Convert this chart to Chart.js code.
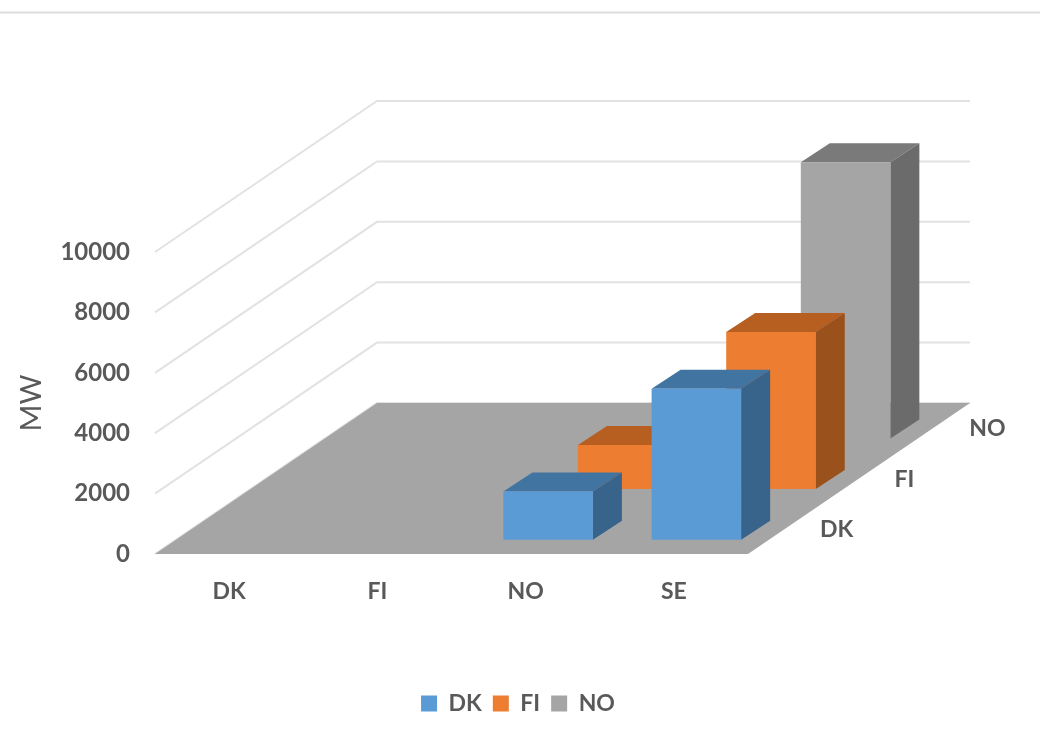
<!DOCTYPE html>
<html>
<head>
<meta charset="utf-8">
<title>MW</title>
<script src="https://cdn.jsdelivr.net/npm/chart.js@4"></script>
<style>
  html, body { margin: 0; padding: 0; background: #fff; }
  #wrap { width: 1040px; height: 744px; }
</style>
</head>
<body>
<div id="wrap"><canvas id="chart" width="1040" height="744"></canvas></div>
<script>
// data
const categories = ["DK", "FI", "NO", "SE"];
const seriesNames = ["DK", "FI", "NO"];
const dkValues = [0, 0, 1600, 5000];
const fiValues = [0, 0, 1460, 5200];
const noValues = [0, 0, 0, 9150];
const yTicks = [0, 2000, 4000, 6000, 8000, 10000];

// colours: front, top, side
const fronts = ["#5b9bd5", "#ed7d31", "#a5a5a5"];
const tops = ["#4274a1", "#b75f20", "#7a7a7a"];
const sides = ["#38638a", "#9a511c", "#6b6b6b"];

const textColor = "#595959";
const fontFamily = "Lato, 'Open Sans', sans-serif";

// the fake 3d projection, in pixels
const floorDx = 222, floorDy = 151;   // whole depth of the floor
const rowStartDx = 22.5, rowStartDy = 14.3;   // front row from front edge
const rowDx = 74.6, rowDy = 50.6;     // one row further back
const boxDx = 29, boxDy = 19;         // depth of one bar

function poly(ctx, pts, color) {
  ctx.fillStyle = color;
  ctx.beginPath();
  pts.forEach((p, i) => i ? ctx.lineTo(p[0], p[1]) : ctx.moveTo(p[0], p[1]));
  ctx.closePath();
  ctx.fill();
}

const scene3d = {
  id: "scene3d",
  afterLayout(chart) {
    // legend centres on the page, not on the plot
    chart.legend.left = 0;
    chart.legend.right = 1036;
  },
  beforeDraw(chart) {
    const ctx = chart.ctx;
    ctx.save();
    ctx.strokeStyle = "#dcdcdc";
    ctx.lineWidth = 2;
    ctx.beginPath();
    ctx.moveTo(0, 12.5);
    ctx.lineTo(chart.width, 12.5);
    ctx.stroke();
    ctx.restore();
  },
  beforeDatasetsDraw(chart) {
    const ctx = chart.ctx;
    const x = chart.scales.x, y = chart.scales.y;
    const y0 = y.getPixelForValue(0);
    ctx.save();

    // walls
    ctx.strokeStyle = "#e2e2e2";
    ctx.lineWidth = 2;
    yTicks.forEach(v => {
      const py = y.getPixelForValue(v);
      ctx.beginPath();
      ctx.moveTo(x.left, py);
      ctx.lineTo(x.left + floorDx, py - floorDy);
      ctx.lineTo(x.right + floorDx, py - floorDy);
      ctx.stroke();
    });

    // floor
    poly(ctx, [
      [x.left, y0], [x.right, y0],
      [x.right + floorDx, y0 - floorDy], [x.left + floorDx, y0 - floorDy]
    ], "#a5a5a5");

    // bars, back row first
    for (let s = seriesNames.length - 1; s >= 0; s--) {
      const meta = chart.getDatasetMeta(s);
      const dx = rowStartDx + s * rowDx;
      const dy = rowStartDy + s * rowDy;
      meta.data.forEach((bar, i) => {
        if (!chart.data.datasets[s].data[i]) return;
        const l = bar.x - bar.width / 2 + dx;
        const r = bar.x + bar.width / 2 + dx;
        const t = bar.y - dy;
        const b = bar.base - dy;
        poly(ctx, [[l, t], [r, t], [r + boxDx, t - boxDy], [l + boxDx, t - boxDy]], tops[s]);
        poly(ctx, [[r, t], [r + boxDx, t - boxDy], [r + boxDx, b - boxDy], [r, b]], sides[s]);
        poly(ctx, [[l, t], [r, t], [r, b], [l, b]], fronts[s]);
      });
    }

    // depth axis labels
    ctx.fillStyle = textColor;
    ctx.font = "bold 23px " + fontFamily;
    ctx.textAlign = "left";
    ctx.textBaseline = "middle";
    seriesNames.forEach((name, s) => {
      ctx.fillText(name, x.right + 72 + s * rowDx, y0 - 24 - s * rowDy);
    });

    ctx.restore();
    return false; // native flat bars are replaced by the boxes above
  }
};

new Chart(document.getElementById("chart"), {
  type: "bar",
  data: {
    labels: categories,
    datasets: [
      { label: seriesNames[0], data: dkValues, backgroundColor: fronts[0] },
      { label: seriesNames[1], data: fiValues, backgroundColor: fronts[1] },
      { label: seriesNames[2], data: noValues, backgroundColor: fronts[2] }
    ]
  },
  options: {
    responsive: false,
    animation: false,
    devicePixelRatio: 1,
    layout: { padding: { left: 0, right: 292, top: 252, bottom: 19 } },
    datasets: { bar: { grouped: false, categoryPercentage: 1, barPercentage: 0.604, borderWidth: 0 } },
    plugins: {
      tooltip: { enabled: false },
      legend: {
        position: "bottom",
        labels: {
          boxWidth: 16, boxHeight: 16, padding: 11, color: textColor,
          font: { family: fontFamily, size: 23, weight: "bold" }
        }
      }
    },
    scales: {
      x: {
        grid: { display: false },
        border: { display: false },
        ticks: { color: textColor, padding: 16, font: { family: fontFamily, size: 23, weight: "bold" }, maxRotation: 0 },
        afterFit(scale) { scale.height = 127; }
      },
      y: {
        min: 0,
        max: 10000,
        afterBuildTicks(scale) { scale.ticks = yTicks.map(v => ({ value: v })); },
        grid: { display: false },
        border: { display: false },
        ticks: {
          color: textColor, padding: 17,
          font: { family: fontFamily, size: 24, weight: "bold" },
          callback: v => String(v)
        },
        title: {
          display: true, text: "MW", color: textColor,
          font: { family: fontFamily, size: 29 }, padding: { top: 14, bottom: 0 }
        },
        afterFit(scale) { scale.width = 155; }
      }
    }
  },
  plugins: [scene3d]
});
</script>
</body>
</html>
